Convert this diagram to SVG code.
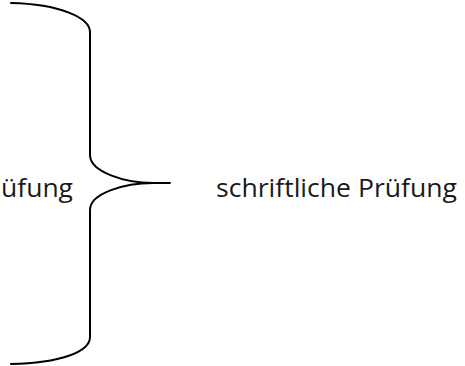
<svg xmlns="http://www.w3.org/2000/svg" width="465" height="366" viewBox="0 0 465 366">
<style>
.lbl{font-family:"Open Sans","Noto Sans","Liberation Sans",sans-serif;font-size:25px;fill:#1a1a1a}
.brace{fill:none;stroke:#000;stroke-width:2;stroke-linecap:round}
</style>
<rect width="465" height="366" fill="#fff"/>
<g id="connectors">
<path class="brace" d="M11,3 C60,4 90,18 90,32 L90,155 C90,172 125,183 153,183 L170,183 M153,183 C125,183 90,193 90,210 L90,337 C90,352 60,363 11,364"/>
</g>
<g id="left-label">
<text class="lbl" x="1" y="197" textLength="72" lengthAdjust="spacingAndGlyphs">üfung</text>
</g>
<g id="right-label">
<text class="lbl" x="216" y="197" textLength="241" lengthAdjust="spacingAndGlyphs">schriftliche Prüfung</text>
</g>
</svg>
